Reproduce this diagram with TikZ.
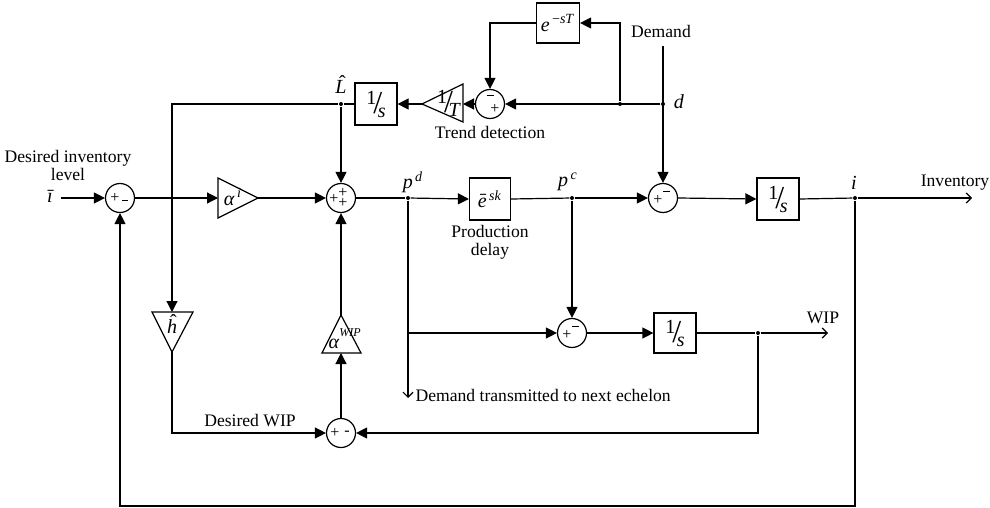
\documentclass[tikz,border=0pt]{standalone}
\usepackage{fontspec}
\setmainfont{Liberation Serif}
\usetikzlibrary{arrows.meta}
\newcommand{\slf}[2]{\raisebox{0.35em}{#1}\kern-0.15em\raisebox{-0.1em}{\fontsize{16}{16}\selectfont/}\kern-0.22em\raisebox{-0.3em}{\textit{#2}}}
\newcommand{\itx}[1]{\textit{#1}}
\newcommand{\supx}[1]{\textsuperscript{#1}}
\newcommand{\hatx}[2]{\ooalign{\itx{#1}\cr\hidewidth\kern0.15em\raisebox{#2}{ˆ}\hidewidth\cr}}
\newcommand{\barx}[2]{\ooalign{\itx{#1}\cr\hidewidth\kern0.08em\raisebox{#2}{ˉ}\hidewidth\cr}}
\tikzset{
  sum/.style={draw, circle, minimum size=14.5pt, inner sep=0pt},
  blk/.style={draw, minimum width=21pt, minimum height=21pt, inner sep=0pt, font=\fontsize{10}{10}\selectfont},
  sig/.style={arrows={-Triangle[length=5.5pt,width=5.5pt]}},
  outarr/.style={arrows={-Straight Barb[length=2.5pt,width=5pt]}},
  jdot/.style={circle, fill, inner sep=0pt, minimum size=2pt},
  lbl/.style={font=\fontsize{8.8}{10}\selectfont, inner sep=0pt},
  mlbl/.style={font=\fontsize{10}{10}\selectfont, inner sep=0pt},
  sg/.style={font=\fontsize{8}{8}\selectfont, inner sep=0pt},
  gain/.style={draw, line join=miter}
}
\begin{document}
\begin{tikzpicture}[x=0.5pt, y=-0.5pt, line width=0.6pt]
\useasboundingbox (0,0) rectangle (990,508);

% summing junctions
\node[sum] (s1) at (120,198) {};
\node[sum] (s2) at (341,198) {};
\node[sum] (s3) at (490,104) {};
\node[sum] (s4) at (663,198) {};
\node[sum] (s5) at (572,333) {};
\node[sum] (s6) at (341,433) {};

\path (s1) ++(-5,0) node[sg] {+} ++(10,2) node[sg] {\rule[-0.6pt]{3pt}{0.5pt}};
\path (s2) ++(-7,1) node[sg] {+} ++(9,-6) node[sg] {+} ++(0,10) node[sg] {+};
\path (s3) ++(0,-7) node[sg] {\rule[1.5pt]{3.5pt}{0.6pt}} ++(5,12) node[sg] {+};
\path (s4) ++(-5,2) node[sg] {+} ++(8,-7) node[sg] {\rule[1.5pt]{3.5pt}{0.6pt}};
\path (s5) ++(-5,2) node[sg] {+} ++(8,-7) node[sg] {\rule[1.5pt]{3.5pt}{0.6pt}};
\path (s6) ++(-6,0) node[sg] {+} ++(12,0) node[sg] {-};

% blocks
\node[blk] (int1) at (376,104) {\slf{1}{s}};
\node[blk, minimum width=21.5pt, minimum height=20pt] (dly) at (558,23) {\itx{e}\supx{\,−\itx{sT}}};
\node[blk, minimum width=20.5pt] (pd) at (490,199) {\barx{e}{0.05em}\supx{\,\itx{sk}}};
\node[blk] (int2) at (778,199) {\slf{1}{s}};
\node[blk, minimum height=20pt] (int3) at (675,333) {\slf{1}{s}};

% gains (triangles)
\draw[gain] (218,178) -- (258,198) -- (218,218) -- cycle;
\coordinate (aiin) at (218,198);
\coordinate (aiout) at (258,198);
\node[mlbl] at (233,197) {\itx{α}\supx{\,\itx{i}}};

\draw[gain] (422,104) -- (463,84) -- (463,122) -- cycle;
\coordinate (gTin) at (463,104);
\coordinate (gTout) at (422,104);
\node[mlbl] at (449,103) {\slf{1}{T}};

\draw[gain] (152,312) -- (193,312) -- (172,352) -- cycle;
\coordinate (hin) at (172,312);
\coordinate (hout) at (172,352);
\node[mlbl] at (172,327) {\hatx{h}{0.25em}};

\draw[gain] (322,353) -- (361,353) -- (341,315) -- cycle;
\coordinate (awin) at (341,353);
\coordinate (awout) at (341,315);
\node[mlbl] at (334,344) {\itx{α}};
\node[lbl, font=\fontsize{6}{6}\selectfont] at (350,333) {\itx{WIP}};

% junctions and free ends
\node[jdot] (pdj) at (408,198) {};
\node[jdot] (pcj) at (572,198) {};
\node[jdot] (ij) at (855,198) {};
\node[jdot] (Lj) at (341,104) {};
\node[jdot] (dj) at (663,104) {};
\node[jdot] (dj2) at (620,104) {};
\node[jdot] (wj) at (758,333) {};
\coordinate (brj) at (408,333);
\coordinate (invend) at (972,198);
\coordinate (wend) at (828,333);
\coordinate (echend) at (408,398);
\coordinate (dtop) at (663,46);
\coordinate (bot) at (120,506);

% labels
\node[lbl, align=center] (dil) at (68,165) {Desired inventory\\[-1pt]level};
\node[mlbl] (ibar) at (50,198) {\barx{ı}{0.02em}};
\node[mlbl] at (341,87) {\hatx{L}{0.22em}};
\node[lbl] at (490,132) {Trend detection};
\node[lbl] at (661,31) {Demand};
\node[mlbl] at (679,102) {\itx{d}};
\node[mlbl] at (413,182) {\itx{p}\supx{\,\itx{d}}};
\node[mlbl] at (568,182) {\itx{p}\supx{\,\itx{c}}};
\node[lbl, align=center] at (490,242) {Production\\[-1pt]delay};
\node[mlbl] at (854,183) {\itx{i}};
\node[lbl] at (955,183) {Inventory};
\node[lbl] at (823,318) {WIP};
\node[lbl, anchor=west] at (415,395) {Demand transmitted to next echelon};
\node[lbl] at (250,421) {Desired WIP};

% connectors: main path
\draw[sig] (ibar.east) ++(8,0) -- (s1.west);
\draw[sig] (s1.east) -- (aiin);
\draw[sig] (aiout) -- (s2.west);
\draw (s2.east) -- (pdj);
\draw[sig] (pdj) -- (pd.west);
\draw (pd.east) -- (pcj);
\draw[sig] (pcj) -- (s4.west);
\draw[sig] (s4.east) -- (int2.west);
\draw (int2.east) -- (ij);
\draw[outarr] (ij) -- (invend);
\draw[sig] (ij) |- (bot) -- (s1.south);

% demand and trend detection
\draw[sig] (dtop) -- (s4.north);
\draw[sig] (dj) -- (s3.east);
\draw[sig] (dj2) |- (dly.east);
\draw[sig] (dly.west) -| (s3.north);
\draw[sig] (s3.west) -- (gTin);
\draw[sig] (gTout) -- (int1.east);
\draw (int1.west) -- (Lj);
\draw[sig] (Lj) -- (s2.north);
\draw[sig] (Lj) -| (hin);

% WIP loop
\draw[sig] (hout) |- (s6.west);
\draw[sig] (s6.north) -- (awin);
\draw[sig] (awout) -- (s2.south);
\draw[sig] (pcj) -- (s5.north);
\draw[outarr] (pdj) -- (echend);
\draw[sig] (brj) -- (s5.west);
\draw[sig] (s5.east) -- (int3.west);
\draw (int3.east) -- (wj);
\draw[outarr] (wj) -- (wend);
\draw[sig] (wj) |- (s6.east);
\end{tikzpicture}
\end{document}
